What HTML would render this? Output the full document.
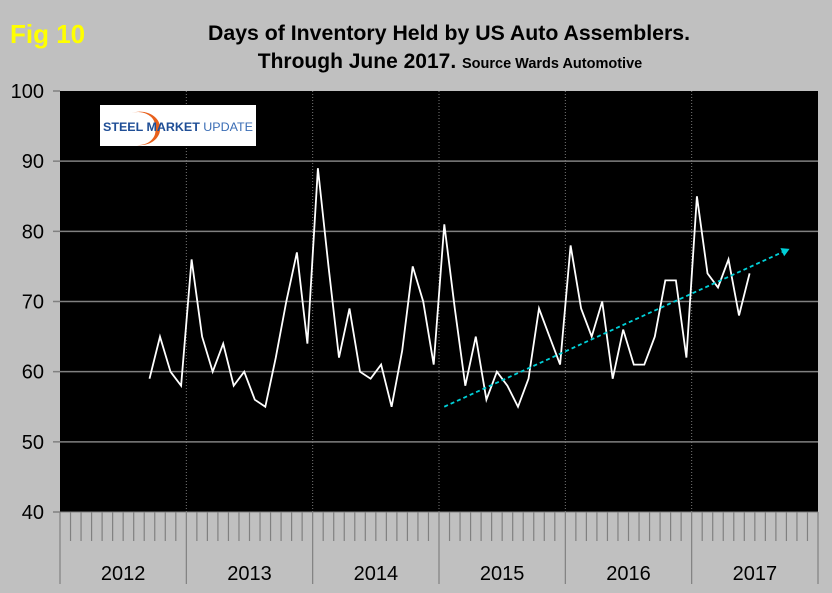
<!DOCTYPE html>
<html><head><meta charset="utf-8"><style>
html,body{margin:0;padding:0;background:#c0c0c0;}
svg{display:block;font-family:"Liberation Sans",Arial,sans-serif;}
</style></head><body>
<svg id="chart" width="832" height="593" viewBox="0 0 832 593">
<rect x="0" y="0" width="832" height="593" fill="#c0c0c0"/>
<text x="10" y="43" font-size="26" font-weight="bold" fill="#ffff00">Fig 10</text>
<text x="449" y="40" font-size="21" font-weight="bold" text-anchor="middle" fill="#000" textLength="482" lengthAdjust="spacingAndGlyphs">Days of Inventory Held by US Auto Assemblers.</text>
<text x="450" y="68" font-size="21" font-weight="bold" text-anchor="middle" fill="#000">Through June 2017. <tspan font-size="14.5">Source Wards Automotive</tspan></text>
<rect x="60" y="91" width="758" height="421" fill="#000"/>
<g id="grid"></g>
<g id="axes"></g>
<g id="marks"></g>
<g>
<rect x="100" y="105" width="156" height="41" fill="#fff"/>
<path d="M132,113 A20,16 0 0,1 160,128 A20,16 0 0,1 137,145 A17,14 0 0,0 155,128 A17,14 0 0,0 132,113 Z" fill="#e8601c"/>
<text x="103" y="131" font-size="12" font-weight="bold" fill="#1f4e96" textLength="150" lengthAdjust="spacingAndGlyphs">STEEL MARKET <tspan font-weight="normal" fill="#3a6db5">UPDATE</tspan></text>
</g>
</svg>
<script>
const yTicks = [40, 50, 60, 70, 80, 90, 100];
const years = ["2012", "2013", "2014", "2015", "2016", "2017"];
const startMonthIndex = 8;
const values = [59, 65, 60, 58,
 76, 65, 60, 64, 58, 60, 56, 55, 62, 70, 77, 64,
 89, 75, 62, 69, 60, 59, 61, 55, 63, 75, 70, 61,
 81, 69, 58, 65, 56, 60, 58, 55, 59, 69, 65, 61,
 78, 69, 65, 70, 59, 66, 61, 61, 65, 73, 73, 62,
 85, 74, 72, 76, 68, 74];
const trendX = [36.0, 68.8];
const trendY = [55.0, 77.5];

const NS = "http://www.w3.org/2000/svg";
const L = 60, R = 818, T = 91, B = 512;
const monthW = (R - L) / (years.length * 12);
const xPos = m => L + (m + 0.5) * monthW;
const xEdge = m => L + m * monthW;
const yPos = v => B - (v - 40) / 60 * (B - T);
function mk(tag, attrs, parent) {
  const e = document.createElementNS(NS, tag);
  for (const k in attrs) e.setAttribute(k, attrs[k]);
  parent.appendChild(e);
  return e;
}
const grid = document.getElementById('grid');
const axes = document.getElementById('axes');
const marks = document.getElementById('marks');

yTicks.forEach(v => {
  const y = yPos(v);
  if (v > 40 && v < 100) {
    const g = mk('line', {x1: L, x2: R, y1: y, y2: y, stroke: '#808080', 'stroke-width': 1.5}, grid);
    
    
  }
  const t = mk('line', {x1: 53, x2: L, y1: y, y2: y, stroke: '#808080', 'stroke-width': 1.5}, axes);
  
  
  const lab = mk('text', {x: 44, y: y + 7, 'font-size': 20, 'text-anchor': 'end', fill: '#000'}, axes);
  lab.textContent = v;
  
  
});

years.forEach((yr, i) => {
  if (i > 0) {
    const d = mk('line', {x1: xEdge(i * 12), x2: xEdge(i * 12), y1: T, y2: B, stroke: '#777', 'stroke-width': 1, 'stroke-dasharray': '1,2'}, grid);
    
    
  }
  const lab = mk('text', {x: xEdge(i * 12 + 6), y: 580, 'font-size': 20, 'text-anchor': 'middle', fill: '#000'}, axes);
  lab.textContent = yr;
  
  
});
for (let m = 0; m <= years.length * 12; m++) {
  const major = m % 12 === 0;
  const t = mk('line', {x1: xEdge(m), x2: xEdge(m), y1: B, y2: major ? 584 : 541, stroke: '#808080', 'stroke-width': 1.2}, axes);
  
  
}
const base = mk('line', {x1: L, x2: R, y1: B, y2: B, stroke: '#808080', 'stroke-width': 1}, axes);



const pts = values.map((v, i) => xPos(startMonthIndex + i).toFixed(1) + ',' + yPos(v).toFixed(1)).join(' ');
const line = mk('polyline', {points: pts, fill: 'none', stroke: '#fff', 'stroke-width': 1.8, 'stroke-linejoin': 'miter'}, marks);



const tx1 = xPos(trendX[0]), ty1 = yPos(trendY[0]), tx2 = xPos(trendX[1]), ty2 = yPos(trendY[1]);
const ang = Math.atan2(ty2 - ty1, tx2 - tx1);
const ex = tx2 - 8 * Math.cos(ang), ey = ty2 - 8 * Math.sin(ang);
const tr = mk('line', {x1: tx1, y1: ty1, x2: ex, y2: ey, stroke: '#00d0d8', 'stroke-width': 1.8, 'stroke-dasharray': '4,3'}, marks);


const px = -Math.sin(ang), py = Math.cos(ang);
const head = mk('polygon', {points: `${tx2},${ty2} ${ex + 4.5 * px},${ey + 4.5 * py} ${ex - 4.5 * px},${ey - 4.5 * py}`, fill: '#00d0d8'}, marks);


</script>
</body></html>
